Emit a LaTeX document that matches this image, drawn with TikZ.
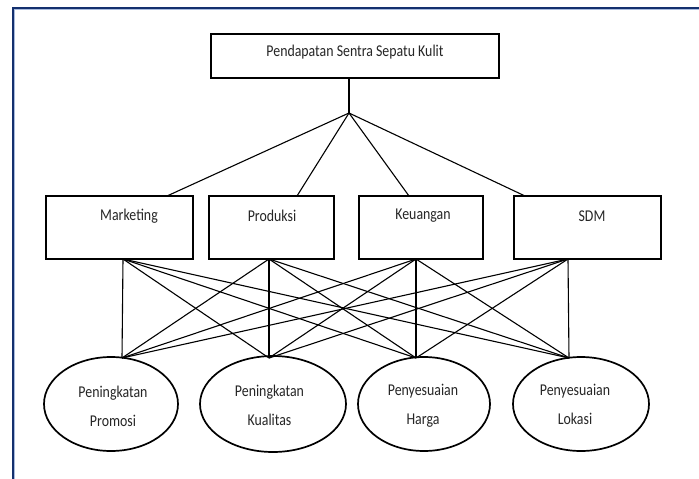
\documentclass[tikz,border=0pt]{standalone}
\usepackage{fontspec}
\setmainfont{Carlito}[FakeStretch=0.84]
\usetikzlibrary{shapes.geometric}
\definecolor{framenavy}{HTML}{14306E}
\definecolor{framelight}{HTML}{A9BBDD}
\begin{document}
\begin{tikzpicture}[x=1pt,y=-1pt,
  box/.style={draw=black, line width=1.7pt, rectangle, inner sep=0pt},
  oval/.style={draw=black, line width=1.7pt, ellipse, inner sep=0pt},
  lbl/.style={font=\fontsize{16.5}{29}\selectfont, align=center, inner sep=0pt, text=black!85},
  link/.style={draw=black, line width=1.1pt}]
\useasboundingbox (0,0) rectangle (699,479);
\fill[white] (0,0) rectangle (699,479);
% frame
\draw[framenavy, line width=2pt] (12.5,479) -- (12.5,8) -- (699,8);
\draw[framelight, line width=0.8pt] (14,479) -- (14,9.6) -- (699,9.6);
% top box
\node[box, minimum width=288pt, minimum height=44pt] (top) at (355,56) {};
\node[lbl] (toptxt) at (355,52) {Pendapatan Sentra Sepatu Kulit};
% middle boxes
\node[box, minimum width=147pt, minimum height=63pt] (m1) at (119.5,227.5) {};
\node[box, minimum width=125pt, minimum height=63pt] (m2) at (271.5,227.5) {};
\node[box, minimum width=124pt, minimum height=63pt] (m3) at (421,227.5) {};
\node[box, minimum width=147pt, minimum height=63pt] (m4) at (587.5,227.5) {};
\node[lbl] (m1txt) at (129,216) {Marketing};
\node[lbl] (m2txt) at (272,216) {Produksi};
\node[lbl] (m3txt) at (423,216) {Keuangan};
\node[lbl] (m4txt) at (592,216) {SDM};
% ellipses
\node[oval, minimum width=134pt, minimum height=94pt] (e1) at (111,404) {};
\node[oval, minimum width=146pt, minimum height=96pt] (e2) at (273,404) {};
\node[oval, minimum width=132pt, minimum height=94pt] (e3) at (424,404) {};
\node[oval, minimum width=136pt, minimum height=94pt] (e4) at (581,404) {};
\node[lbl] (e1txt) at (113,406.5) {Peningkatan\\Promosi};
\node[lbl] (e2txt) at (269.5,405) {Peningkatan\\Kualitas};
\node[lbl] (e3txt) at (423,406) {Penyesuaian\\Harga};
\node[lbl] (e4txt) at (575,404) {Penyesuaian\\Lokasi};
% connection points
\coordinate (j) at (349,113);
\coordinate (m1in) at (167,196);
\coordinate (m2in) at (297,196);
\coordinate (m3in) at (409,196);
\coordinate (m4in) at (525,196);
\coordinate (m1out) at (123,259);
\coordinate (m2out) at (269,259);
\coordinate (m3out) at (416,259);
\coordinate (m4out) at (568,259);
\coordinate (e1in) at (122,358);
\coordinate (e2in) at (269,358);
\coordinate (e3in) at (416,358);
\coordinate (e4in) at (569,358);
% top connectors
\draw[link] (j |- top.south) -- (j);
\foreach \i in {1,2,3,4} { \draw[link] (j) -- (m\i in); }
% bipartite connectors
\foreach \i in {1,2,3,4} {
  \foreach \k in {1,2,3,4} {
    \draw[link] (m\i out) -- (e\k in);
  }
}
\end{tikzpicture}
\end{document}
